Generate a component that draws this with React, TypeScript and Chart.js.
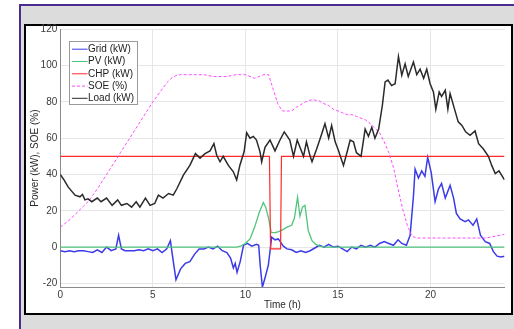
import { useEffect, useRef } from "react";
import { Chart, registerables } from "chart.js";

Chart.register(...registerables);

// ---- data ----
const hours = Array.from({ length: 97 }, (_, i) => i * 0.25);

const soePct = [
  11, 13, 15, 17.5,
  20, 22.5, 25, 28.5,
  32, 36, 40, 44,
  48, 52, 56, 60,
  64, 68, 72, 76,
  80, 83.5, 87, 90.5,
  93, 94.5, 95, 95,
  95, 95, 95, 95,
  94.5, 94, 94, 94,
  94, 94.5, 95, 95,
  95, 94, 93, 94,
  95, 95, 87, 79,
  75, 75, 75, 77,
  78.5, 80, 81, 81,
  80.5, 79, 78, 76,
  75, 74, 73, 73,
  72, 71, 70, 68,
  65.5, 63, 58, 52,
  44, 32, 21, 12,
  6, 5, 5, 5,
  5, 5, 5, 5,
  5, 5, 5, 5,
  5, 5, 5, 5,
  5, 5.5, 6, 6.5,
  7,
];

const loadHours = [
  0, 0.2, 0.43, 0.8, 1.06, 1.2, 1.33, 1.5, 1.7, 2.0, 2.2, 2.5, 2.8, 3.1, 3.3, 3.6,
  3.85, 4.1, 4.3, 4.6, 4.85, 5.1, 5.3, 5.55, 5.85, 6.1, 6.29, 6.65, 7.0, 7.3, 7.55,
  7.82, 8.09, 8.3, 8.45, 8.63, 8.8, 9.08, 9.35, 9.53, 9.7, 9.93, 10.07, 10.25, 10.43,
  10.6, 10.79, 10.88, 11.06, 11.33, 11.6, 11.87, 12.1, 12.4, 12.6, 12.8, 12.95, 13.14,
  13.3, 13.5, 13.6, 13.85, 14.1, 14.3, 14.5, 14.66, 14.85, 15.0, 15.3, 15.5, 15.66,
  15.84, 16.0, 16.25, 16.47, 16.65, 16.83, 17.0, 17.2, 17.4, 17.55, 17.7, 17.9, 18.09,
  18.27, 18.45, 18.63, 18.8, 19.08, 19.26, 19.44, 19.63, 19.8, 19.98, 20.16, 20.29,
  20.47, 20.6, 20.8, 20.94, 21.06, 21.3, 21.5, 21.7, 21.9, 22.14, 22.41, 22.6, 22.86,
  23.13, 23.31, 23.5, 23.7, 23.95, 24,
];
const loadKW = [
  40, 37, 33, 28.6, 27.7, 29, 26, 26.6, 25, 27, 25, 27, 23, 26, 23, 24,
  22, 25, 22, 27, 23, 24, 28.6, 27, 29.5, 28.6, 32, 39.6, 45, 51.5, 49,
  51.5, 53, 57, 50.6, 47, 50, 45, 41.5, 37, 45, 52.5, 63, 60, 61,
  59, 52.5, 47, 55, 59, 53, 59, 63.5, 59, 50, 59, 55, 50,
  58, 50, 47, 54, 61.6, 68, 60, 67, 58, 54, 45, 52.5, 59,
  58, 52, 50, 65, 61, 66, 60, 65, 78, 91, 92, 89, 90,
  105, 94.7, 101, 94, 102, 95, 98, 93, 98, 90, 85.5, 76,
  85.5, 83, 86.4, 76, 84.6, 76, 69, 67, 63.5, 61.6, 64, 57, 54,
  50, 45, 40.5, 42, 37.8, 37,
];

const gridHours = [
  0, 0.25, 0.5, 0.75, 1, 1.25, 1.5, 1.75, 2, 2.25, 2.5, 2.75, 3, 3.15, 3.3, 3.5, 3.75,
  4, 4.25, 4.5, 4.75, 5, 5.25, 5.5, 5.75, 5.95, 6.05, 6.25, 6.5, 6.75, 7, 7.25, 7.5,
  7.75, 8, 8.25, 8.5, 8.75, 9, 9.2, 9.35, 9.45, 9.55, 9.72, 9.9, 10.1, 10.35, 10.6,
  10.72, 10.8, 10.92, 11.06, 11.24, 11.42, 11.6, 11.78, 12.05, 12.25, 12.5, 12.75,
  13, 13.25, 13.5, 13.75, 14, 14.25, 14.5, 14.75, 15, 15.25, 15.5, 15.75, 16, 16.25,
  16.5, 16.75, 17, 17.25, 17.5, 17.75, 18, 18.25, 18.45, 18.7, 18.9, 19.08, 19.17,
  19.35, 19.53, 19.7, 19.85, 20.04, 20.25, 20.43, 20.6, 20.8, 21.06, 21.25, 21.4,
  21.6, 21.87, 22.05, 22.3, 22.5, 22.7, 22.96, 23.2, 23.4, 23.6, 23.8, 24,
];
const gridKW = [
  -2, -2.5, -2, -2.5, -2, -2, -2.5, -3, -1.5, -3, 0, -2, -1, 6.5, -1, -2, -2,
  -2, -1.5, -2, -1, -2, -1, -3, -1, 3.5, -4, -18, -12, -9, -8, -4, -1,
  -1, 0, -1, 0.5, -2, -3, -6, -11.5, -9, -14, -8, 1, 2, 0.5, 1.5,
  1, -10, -22, -17, -10, 5.5, 4, 4.5, 0.5, -1, -1.5, -3,
  -2, -3, -2, -0.5, 1, 0, 1.5, 0, 0.5, -1, -2.5, 0, -1, 1,
  0, 1, 0, 2, 3, 2, 1, 4, 2, 1, 6.5, 28, 43,
  38, 42, 39, 49.5, 41, 25, 32, 35, 27, 34, 27, 18.5,
  15.5, 14, 15, 12, 15.5, 6.5, 3, 2, -2.5, -5, -5.5, -5,
];

const pvHours = [
  0, 9.5, 9.75, 10, 10.25, 10.5, 10.75, 10.97, 11.1, 11.25, 11.4, 11.6, 11.8, 12,
  12.25, 12.5, 12.65, 12.82, 12.95, 13.08, 13.22, 13.4, 13.6, 13.8, 14, 14.3, 24,
];
const pvKW = [
  0, 0, 0.5, 2, 4.5, 11, 19, 24.5, 22, 16, 8, 8, 8.5, 9.5,
  11, 12, 16, 27.5, 17, 22, 23, 9, 3.5, 1.5, 0.5, 0, 0,
];

const chpHours = [0, 11.3, 11.36, 11.9, 11.95, 24];
const chpKW = [50, 50, -1, -1, 50, 50];

const xTicks = [0, 5, 10, 15, 20];
const yTicks = [-20, 0, 20, 40, 60, 80, 100, 120];

const seriesNames = ["Grid (kW)", "PV (kW)", "CHP (kW)", "SOE (%)", "Load (kW)"];
const seriesColors = ["#3b3be8", "#4ec47c", "#ff2a2a", "#ff4cff", "#2a2a2a"];

const pairs = (xs: number[], ys: number[]) => xs.map((x, i) => ({ x, y: ys[i] }));

const FONT = "'Liberation Sans', Arial, sans-serif";

const framePlugin = {
  id: "frame",
  beforeDraw(chart: any) {
    const ctx = chart.ctx;
    ctx.save();
    ctx.fillStyle = "#ffffff";
    ctx.fillRect(0, 0, 514, 329);
    ctx.fillStyle = "#4b2d8f";
    ctx.fillRect(19, 4, 495, 325);
    ctx.fillStyle = "#dcdcdc";
    ctx.fillRect(21, 6, 493, 323);
    ctx.fillStyle = "#000000";
    ctx.fillRect(24, 24, 489, 291);
    ctx.fillStyle = "#ffffff";
    ctx.fillRect(26, 26, 485, 287);
    ctx.restore();
  },
};

const legendPlugin = {
  id: "legendBox",
  afterDraw(chart: any) {
    const ctx = chart.ctx;
    ctx.save();
    ctx.fillStyle = "#ffffff";
    ctx.fillRect(69, 41, 68, 63);
    ctx.strokeStyle = "#9a9a9a";
    ctx.lineWidth = 1;
    ctx.strokeRect(69.5, 41.5, 68, 63);
    const rows = [48.7, 61, 73.3, 85.6, 97.8];
    ctx.font = `10px ${FONT}`;
    ctx.textBaseline = "middle";
    seriesNames.forEach((name, i) => {
      ctx.strokeStyle = seriesColors[i];
      ctx.lineWidth = 1;
      ctx.setLineDash(i === 3 ? [3, 2] : []);
      ctx.beginPath();
      ctx.moveTo(72, rows[i] + 0.5);
      ctx.lineTo(87.5, rows[i] + 0.5);
      ctx.stroke();
      ctx.setLineDash([]);
      ctx.fillStyle = "#222222";
      ctx.fillText(name, 88, rows[i] + 0.5);
    });
    ctx.restore();
  },
};

export default function App() {
  const ref = useRef<HTMLCanvasElement | null>(null);

  useEffect(() => {
    document.body.style.margin = "0";
    if (!ref.current) return;
    const chart = new Chart(ref.current, {
      type: "line",
      data: {
        datasets: [
          {
            label: seriesNames[0],
            data: pairs(gridHours, gridKW),
            borderColor: seriesColors[0],
            borderWidth: 1.5,
            order: 5,
          },
          {
            label: seriesNames[1],
            data: pairs(pvHours, pvKW),
            borderColor: seriesColors[1],
            borderWidth: 1.3,
            order: 4,
          },
          {
            label: seriesNames[2],
            data: pairs(chpHours, chpKW),
            borderColor: seriesColors[2],
            borderWidth: 1.2,
            order: 3,
          },
          {
            label: seriesNames[3],
            data: pairs(hours, soePct),
            borderColor: seriesColors[3],
            borderWidth: 1,
            borderDash: [3, 2],
            order: 2,
          },
          {
            label: seriesNames[4],
            data: pairs(loadHours, loadKW),
            borderColor: seriesColors[4],
            borderWidth: 1.5,
            order: 1,
          },
        ] as any,
      },
      options: {
        animation: false,
        responsive: false,
        devicePixelRatio: 1,
        elements: {
          point: { radius: 0 },
          line: { tension: 0, fill: false },
        },
        layout: { padding: { left: 29, right: 9.5, top: 29.3, bottom: 18 } },
        plugins: {
          legend: { display: false },
          tooltip: { enabled: false },
        },
        scales: {
          x: {
            type: "linear",
            min: 0,
            max: 24,
            afterFit: (s: any) => {
              s.height = 24;
            },
            afterBuildTicks: (s: any) => {
              s.ticks = xTicks.map((v) => ({ value: v }));
            },
            ticks: {
              font: { family: FONT, size: 10 },
              color: "#3a3a3a",
              padding: 2,
              maxRotation: 0,
            },
            grid: { color: "#e6e6e6", drawTicks: false, lineWidth: 1 },
            border: { color: "#8a8a8a", width: 1 },
            title: {
              display: true,
              text: "Time (h)",
              font: { family: FONT, size: 10 },
              color: "#2a2a2a",
              padding: 0,
            },
          },
          y: {
            type: "linear",
            min: -22,
            max: 120,
            afterFit: (s: any) => {
              s.width = 31.3;
            },
            afterBuildTicks: (s: any) => {
              s.ticks = yTicks.map((v) => ({ value: v }));
            },
            ticks: {
              font: { family: FONT, size: 10 },
              color: "#3a3a3a",
              padding: 3,
            },
            grid: { color: "#e6e6e6", drawTicks: false, lineWidth: 1 },
            border: { color: "#8a8a8a", width: 1 },
            title: {
              display: true,
              text: "Power (kW), SOE (%)",
              font: { family: FONT, size: 10 },
              color: "#2a2a2a",
              padding: 0,
            },
          },
        },
      },
      plugins: [framePlugin, legendPlugin],
    });
    return () => chart.destroy();
  }, []);

  return (
    <div style={{ width: 514, height: 329 }}>
      <canvas ref={ref} width={514} height={329} style={{ display: "block" }} />
    </div>
  );
}
